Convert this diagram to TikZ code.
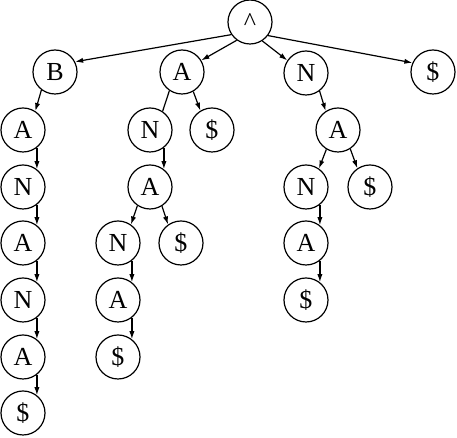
\documentclass[tikz,border=0pt]{standalone}
\usepackage{fontspec}
\setmainfont{Liberation Serif}
\usepackage{tikz}
\usetikzlibrary{arrows.meta}
\tikzset{
  trienode/.style={circle,draw,line width=0.6pt,minimum size=22pt,inner sep=0pt,font=\fontsize{13}{15}\selectfont},
  link/.style={-{Latex[length=4pt,width=2.6pt]},line width=0.6pt},
  barelink/.style={line width=0.6pt}
}

\begin{document}
\begin{tikzpicture}[x=0.5pt, y=-0.5pt]
  \useasboundingbox (0,0) rectangle (457,438);
  % root and first level
  \node[trienode] (root) at (250,22) {\textasciicircum};
  \node[trienode] (b) at (55,72) {B};
  \node[trienode] (a) at (182,72) {A};
  \node[trienode] (n) at (306,73) {N};
  \node[trienode] (d) at (433,72) {\$};
  % B branch
  \node[trienode] (ba) at (23,130) {A};
  \node[trienode] (ban) at (23,187) {N};
  \node[trienode] (bana) at (23,243) {A};
  \node[trienode] (banan) at (23,300) {N};
  \node[trienode] (banana) at (23,357) {A};
  \node[trienode] (bananad) at (23,413) {\$};
  % A branch
  \node[trienode] (an) at (150,130) {N};
  \node[trienode] (ad) at (212,130) {\$};
  \node[trienode] (ana) at (150,187) {A};
  \node[trienode] (anan) at (118,243) {N};
  \node[trienode] (anad) at (181,243) {\$};
  \node[trienode] (anana) at (118,300) {A};
  \node[trienode] (ananad) at (118,357) {\$};
  % N branch
  \node[trienode] (na) at (338,130) {A};
  \node[trienode] (nan) at (306,187) {N};
  \node[trienode] (nad) at (370,187) {\$};
  \node[trienode] (nana) at (306,243) {A};
  \node[trienode] (nanad) at (306,300) {\$};
  % links
  \draw[link] (root.214) -- (b.27);
  \draw[link] (root.234) -- (a.31);
  \draw[link] (root.-57) -- (n.146);
  \draw[link] (root.-37) -- (d.156);
  \draw[link] (b.233) -- (ba.57);
  \draw[link] (ba.-52) -- (ban.52);
  \draw[link] (ban.-52) -- (bana.52);
  \draw[link] (bana.-52) -- (banan.52);
  \draw[link] (banan.-52) -- (banana.52);
  \draw[link] (banana.-52) -- (bananad.52);
  \draw[barelink] (a.236) -- (an.56);
  \draw[link] (a.-60) -- (ad.121);
  \draw[link] (an.-52) -- (ana.52);
  \draw[link] (ana.236) -- (anan.55);
  \draw[link] (ana.-58) -- (anad.125);
  \draw[link] (anan.-52) -- (anana.52);
  \draw[link] (anana.-52) -- (ananad.52);
  \draw[link] (n.-53) -- (na.123);
  \draw[link] (na.239) -- (nan.55);
  \draw[link] (na.-57) -- (nad.124);
  \draw[link] (nan.-52) -- (nana.52);
  \draw[link] (nana.-52) -- (nanad.52);
\end{tikzpicture}
\end{document}
